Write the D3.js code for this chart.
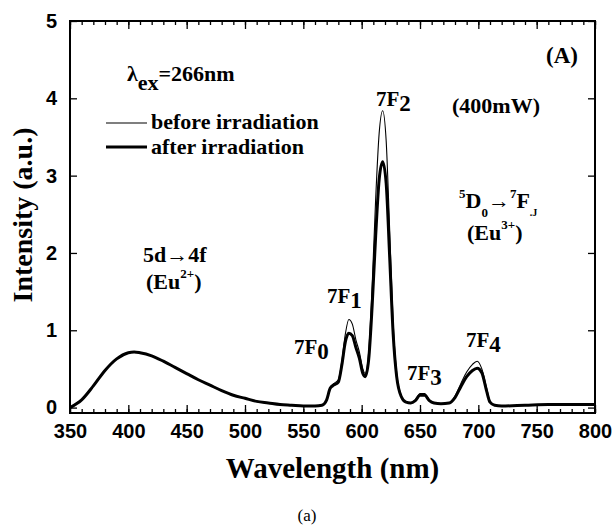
<!DOCTYPE html>
<html>
<head>
<meta charset="utf-8">
<script src="https://cdn.jsdelivr.net/npm/d3@7"></script>
<style>
  body { margin: 0; background: #fff; }
  svg text { fill: #000; }
</style>
</head>
<body>
<div id="chart"></div>
<script>
// spectrum (wavelength nm, intensity a.u.)
var wavelength = [350, 360, 370, 380, 390, 400, 405, 410, 420, 430, 440, 450, 460, 470, 480, 490, 500, 510, 520, 530, 540, 550, 560, 566, 570, 573, 576, 580, 583, 586, 589, 592, 595, 598, 601, 603, 606, 609, 612, 615, 618, 621, 624, 627, 630, 634, 638, 642, 646, 650, 654, 658, 662, 668, 675, 680, 685, 690, 695, 699, 703, 707, 710, 714, 720, 740, 760, 780, 800];
var before = [0.0, 0.1, 0.28, 0.48, 0.63, 0.71, 0.72, 0.71, 0.67, 0.6, 0.52, 0.44, 0.36, 0.29, 0.22, 0.16, 0.12, 0.08, 0.06, 0.04, 0.03, 0.02, 0.02, 0.03, 0.1, 0.26, 0.31, 0.36, 0.6, 0.95, 1.14, 1.08, 0.88, 0.72, 0.5, 0.44, 0.72, 1.58, 2.7, 3.55, 3.84, 3.45, 2.3, 1.1, 0.45, 0.15, 0.07, 0.06, 0.1, 0.18, 0.18, 0.1, 0.06, 0.05, 0.06, 0.15, 0.31, 0.46, 0.56, 0.6, 0.5, 0.26, 0.08, 0.03, 0.02, 0.03, 0.04, 0.04, 0.04];
var after = [0.0, 0.1, 0.28, 0.48, 0.63, 0.71, 0.72, 0.71, 0.67, 0.6, 0.52, 0.44, 0.36, 0.29, 0.22, 0.16, 0.12, 0.08, 0.06, 0.04, 0.03, 0.02, 0.02, 0.03, 0.1, 0.25, 0.29, 0.33, 0.55, 0.85, 0.96, 0.93, 0.78, 0.64, 0.44, 0.4, 0.62, 1.32, 2.22, 2.95, 3.18, 2.9, 1.95, 0.95, 0.4, 0.14, 0.07, 0.06, 0.09, 0.16, 0.16, 0.09, 0.06, 0.05, 0.06, 0.13, 0.27, 0.4, 0.48, 0.51, 0.45, 0.22, 0.07, 0.03, 0.02, 0.03, 0.04, 0.04, 0.04];

var xTicks = [350, 400, 450, 500, 550, 600, 650, 700, 750, 800];
var yTicks = [0, 1, 2, 3, 4, 5];

var W = 614, H = 529;
var pl = 70, pr = 595, pt = 21, pb = 413;

var svg = d3.select("#chart").append("svg")
  .attr("width", W).attr("height", H);

var x = d3.scaleLinear().domain([350, 800]).range([pl, pr]);
var y = d3.scaleLinear().domain([-0.07, 5]).range([pb, pt]);

var sans = "'Liberation Sans', Arial, sans-serif";
var serif = "'Liberation Serif', 'Times New Roman', serif";

// axes: ticks pointing inward
var minorX = d3.range(350, 801, 10);
function styleAxis(g) {
  g.select(".domain").remove();
  g.selectAll("line").attr("stroke", "#000").attr("stroke-width", 1.3);
}

svg.append("g").attr("transform", "translate(0," + pb + ")")
  .call(d3.axisBottom(x).tickValues(minorX).tickSize(-4).tickFormat(""))
  .call(styleAxis);
svg.append("g").attr("transform", "translate(0," + pb + ")")
  .call(d3.axisBottom(x).tickValues(xTicks).tickSize(-8).tickPadding(11).tickFormat(d3.format("d")))
  .call(styleAxis)
  .selectAll("text").attr("font-family", sans).attr("font-weight", "bold").attr("font-size", 20);

svg.append("g").attr("transform", "translate(0," + pt + ")")
  .call(d3.axisTop(x).tickValues(minorX).tickSize(-4).tickFormat(""))
  .call(styleAxis);
svg.append("g").attr("transform", "translate(0," + pt + ")")
  .call(d3.axisTop(x).tickValues(xTicks).tickSize(-8).tickFormat(""))
  .call(styleAxis);

svg.append("g").attr("transform", "translate(" + pl + ",0)")
  .call(d3.axisLeft(y).tickValues(yTicks).tickSize(-7).tickPadding(13).tickFormat(d3.format("d")))
  .call(styleAxis)
  .selectAll("text").attr("font-family", sans).attr("font-weight", "bold").attr("font-size", 20);

svg.append("g").attr("transform", "translate(" + pr + ",0)")
  .call(d3.axisRight(y).tickValues(yTicks).tickSize(-7).tickFormat(""))
  .call(styleAxis);

svg.append("rect")
  .attr("x", pl).attr("y", pt)
  .attr("width", pr - pl).attr("height", pb - pt)
  .attr("fill", "none").attr("stroke", "#000").attr("stroke-width", 2);

// curves
var line = d3.line().curve(d3.curveMonotoneX);
function pts(vals) { return wavelength.map(function (w, i) { return [x(w), y(vals[i])]; }); }

svg.append("path").attr("d", line(pts(before)))
  .attr("fill", "none").attr("stroke", "#000").attr("stroke-width", 1.1);
svg.append("path").attr("d", line(pts(after)))
  .attr("fill", "none").attr("stroke", "#000").attr("stroke-width", 3);

// axis titles
svg.append("text").attr("x", (pl + pr) / 2).attr("y", 478)
  .attr("text-anchor", "middle").attr("font-family", serif)
  .attr("font-weight", "bold").attr("font-size", 29).text("Wavelength (nm)");
svg.append("text").attr("transform", "translate(32,215) rotate(-90)")
  .attr("text-anchor", "middle").attr("font-family", serif)
  .attr("font-weight", "bold").attr("font-size", 28).text("Intensity (a.u.)");
svg.append("text").attr("x", 307).attr("y", 521).attr("text-anchor", "middle")
  .attr("font-family", serif).attr("font-size", 17).text("(a)");

// annotations
function label(px, py, size) {
  return svg.append("text").attr("x", px).attr("y", py)
    .attr("font-family", serif).attr("font-weight", "bold").attr("font-size", size || 21);
}
function sub(t, main, s, dy) {
  t.append("tspan").text(main);
  t.append("tspan").attr("dy", dy).attr("font-size", 23).text(s);
}

label(546, 63, 23).text("(A)");

var lam = label(127, 81, 22);
lam.append("tspan").text("λ");
lam.append("tspan").attr("dy", 9).text("ex");
lam.append("tspan").attr("dy", -9).text("=266nm");

svg.append("line").attr("x1", 106).attr("x2", 147).attr("y1", 123).attr("y2", 123)
  .attr("stroke", "#000").attr("stroke-width", 1.1);
label(151, 129, 22).text("before irradiation");
svg.append("line").attr("x1", 106).attr("x2", 147).attr("y1", 147).attr("y2", 147)
  .attr("stroke", "#000").attr("stroke-width", 3);
label(151, 154, 22).text("after irradiation");

label(452, 113, 22).text("(400mW)");

var d0 = label(459, 208, 22);
d0.append("tspan").attr("font-size", 13).attr("dy", -10).text("5");
d0.append("tspan").attr("dy", 10).text("D");
d0.append("tspan").attr("font-size", 13).attr("dy", 9).text("0");
d0.append("tspan").attr("dy", -9).text("→");
d0.append("tspan").attr("font-size", 13).attr("dy", -10).text("7");
d0.append("tspan").attr("dy", 10).text("F");
d0.append("tspan").attr("font-size", 10).attr("dy", 8).text(".J");
var eu3 = label(467, 240, 22);
eu3.append("tspan").text("(Eu");
eu3.append("tspan").attr("font-size", 13).attr("dy", -11).text("3+");
eu3.append("tspan").attr("dy", 11).text(")");

label(143, 262, 22).text("5d→4f");
var eu2 = label(146, 289, 22);
eu2.append("tspan").text("(Eu");
eu2.append("tspan").attr("font-size", 13).attr("dy", -11).text("2+");
eu2.append("tspan").attr("dy", 11).text(")");

sub(label(376, 106), "7F", "2", 5);
sub(label(327, 303), "7F", "1", 5);
sub(label(294, 354), "7F", "0", 5);
sub(label(407, 380), "7F", "3", 5);
sub(label(466, 347), "7F", "4", 5);
</script>
</body>
</html>
